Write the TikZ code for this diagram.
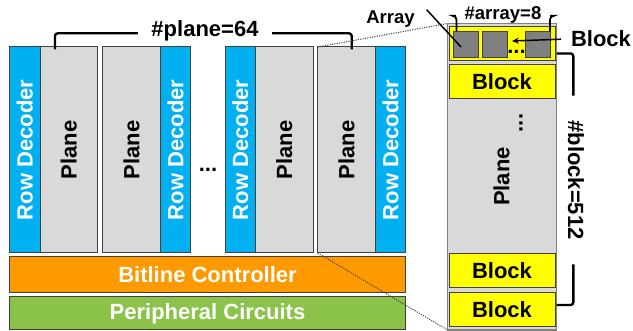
\documentclass[tikz,border=0pt]{standalone}
\usepackage{fontspec}
\setmainfont{Liberation Sans}
\usepackage{graphicx}
\usepackage{tikz}
\usetikzlibrary{arrows.meta,calc}

\definecolor{decblue}{RGB}{0,176,240}
\definecolor{planegray}{RGB}{217,217,217}
\definecolor{ctrlorange}{RGB}{255,153,0}
\definecolor{periphgreen}{RGB}{139,195,74}
\definecolor{blockyellow}{RGB}{255,255,0}
\definecolor{arraygray}{RGB}{128,128,128}
\definecolor{edgegray}{RGB}{64,64,64}

\newcommand{\bigfs}{\fontsize{16.5}{18}\selectfont\bfseries}
\newcommand{\smallfs}{\fontsize{13.9}{15}\selectfont\bfseries}

\begin{document}
\begin{tikzpicture}[x=0.75pt,y=0.75pt,yscale=-1,xscale=1,
	box/.style={draw=edgegray, line width=0.75pt, inner sep=0pt, outer sep=0pt, font=\bigfs},
	rowdec/.style={box, fill=decblue, text=white, minimum width=30.5*0.75pt, minimum height=206*0.75pt},
	planecol/.style={box, fill=planegray, minimum width=57.5*0.75pt, minimum height=206*0.75pt},
	ctrlbar/.style={box, text=white, minimum width=396*0.75pt},
	blockbox/.style={box, fill=blockyellow, minimum width=106*0.75pt, minimum height=34*0.75pt},
	arraybox/.style={box, fill=arraygray, minimum width=25.5*0.75pt, minimum height=25.5*0.75pt},
	brace/.style={line width=1.8pt, rounded corners=2},
	zoomline/.style={densely dotted, line width=0.8pt, draw=edgegray},
	]
			\useasboundingbox (0,0) rectangle (633,331);
			
			%Shape: Planes and row decoders
			\node [rowdec] (rd1) at (24.75,150) {\rotatebox{90}{Row Decoder}};
			\node [planecol] (pl1) at (68.75,150) {\rotatebox{90}{Plane}};
			\node [planecol] (pl2) at (131.5,150) {\rotatebox{90}{Plane}};
			\node [rowdec] (rd2) at (175.5,150) {\rotatebox{90}{Row Decoder}};
			\node [rowdec] (rd3) at (240.25,150) {\rotatebox{90}{Row Decoder}};
			\node [planecol] (pl3) at (284.25,150) {\rotatebox{90}{Plane}};
			\node [planecol] (pl4) at (346.5,150) {\rotatebox{90}{Plane}};
			\node [rowdec] (rd4) at (390.5,150) {\rotatebox{90}{Row Decoder}};
			% Text Node
			\node [font=\bigfs] (pldots) at (208,170) {...};
			
			%Shape: Bottom bars
			\node [ctrlbar, fill=ctrlorange, minimum height=35.5*0.75pt] (bitctl) at (207.5,274.75) {Bitline Controller};
			\node [ctrlbar, fill=periphgreen, minimum height=33*0.75pt] (periph) at (207.5,313.5) {Peripheral Circuits};
			
			%Shape: One plane in detail
			\node [box, draw=arraygray, line width=1.2pt, fill=planegray, minimum width=109*0.75pt, minimum height=306.5*0.75pt] (detail) at (502,176.75) {};
			\node [blockbox] (arrrow) at (502,44) {};
			\node [blockbox] (blk1) at (502,82) {Block};
			\node [blockbox] (blk2) at (502,271) {Block};
			\node [blockbox] (blk3) at (502,309.5) {Block};
			\node [arraybox] (ar1) at (466,44.5) {};
			\node [arraybox] (ar2) at (495,44.5) {};
			\node [arraybox] (ar3) at (538,44.5) {};
			% Text Node
			\node [font=\bigfs] (ardots) at (516.5,52.3) {...};
			\node [font=\bigfs] (detailname) at (501.5,176.5) {\rotatebox{90}{Plane}};
			\node [font=\bigfs] (blkdots) at (521,123) {\rotatebox{90}{...}};
			
			% Text Node
			\node [font=\bigfs, anchor=base] (planecnt) at (205,37) {\#plane=64};
			\node [font=\smallfs, anchor=base] (arraycnt) at (503,20) {\#array=8};
			\node [font=\smallfs, anchor=base] (arraylbl) at (390.5,24) {Array};
			\node [font=\bigfs] (blocklbl) at (601,39) {Block};
			\node [font=\bigfs] (blockcnt) at (576,180) {\rotatebox{-90}{\#block=512}};
			
			%Straight Lines: braces
			\draw [brace] ($(pl1.north)+(-13.75,2.3)$) |- ($(planecnt.base west)+(-9,-3.7)$);
			\draw [brace] ($(planecnt.base east)+(9,-3.7)$) -| ($(pl4.north)+(5.2,2.3)$);
			\draw [brace, line width=1.4pt, rounded corners=3] ($(ar1.north)+(-9.5,-0.5)$) |- ($(arraycnt.base west)+(-4,-4.3)$);
			\draw [brace, line width=1.4pt, rounded corners=3] ($(arraycnt.base east)+(4,-4.3)$) -| ($(ar3.north)+(12,-0.5)$);
			\draw [brace] ($(detail.north east)+(0,30)$) -| ($(blockcnt.north)+(-2.7,-20)$);
			\draw [brace] ($(blockcnt.south)+(-2.7,20)$) |- ($(detail.north east)+(0,281.5)$);
			
			%Straight Lines: zoom
			\draw [zoomline] (pl4.north west) -- (detail.north west);
			\draw [zoomline] (pl4.south west) -- (detail.south west);
			
			%Straight Lines: pointers
			\coordinate (arrhit) at (461,47);
			\coordinate (blkhit) at (512,41);
			\draw [line width=1.1pt] ($(arraylbl.north east)+(7.3,3.2)$) -- (arrhit);
			\draw [line width=1.1pt, shorten <=4pt, -{Stealth[length=5pt,width=4.5pt]}] (blocklbl.west) -- (blkhit);
			
\end{tikzpicture}
\end{document}
